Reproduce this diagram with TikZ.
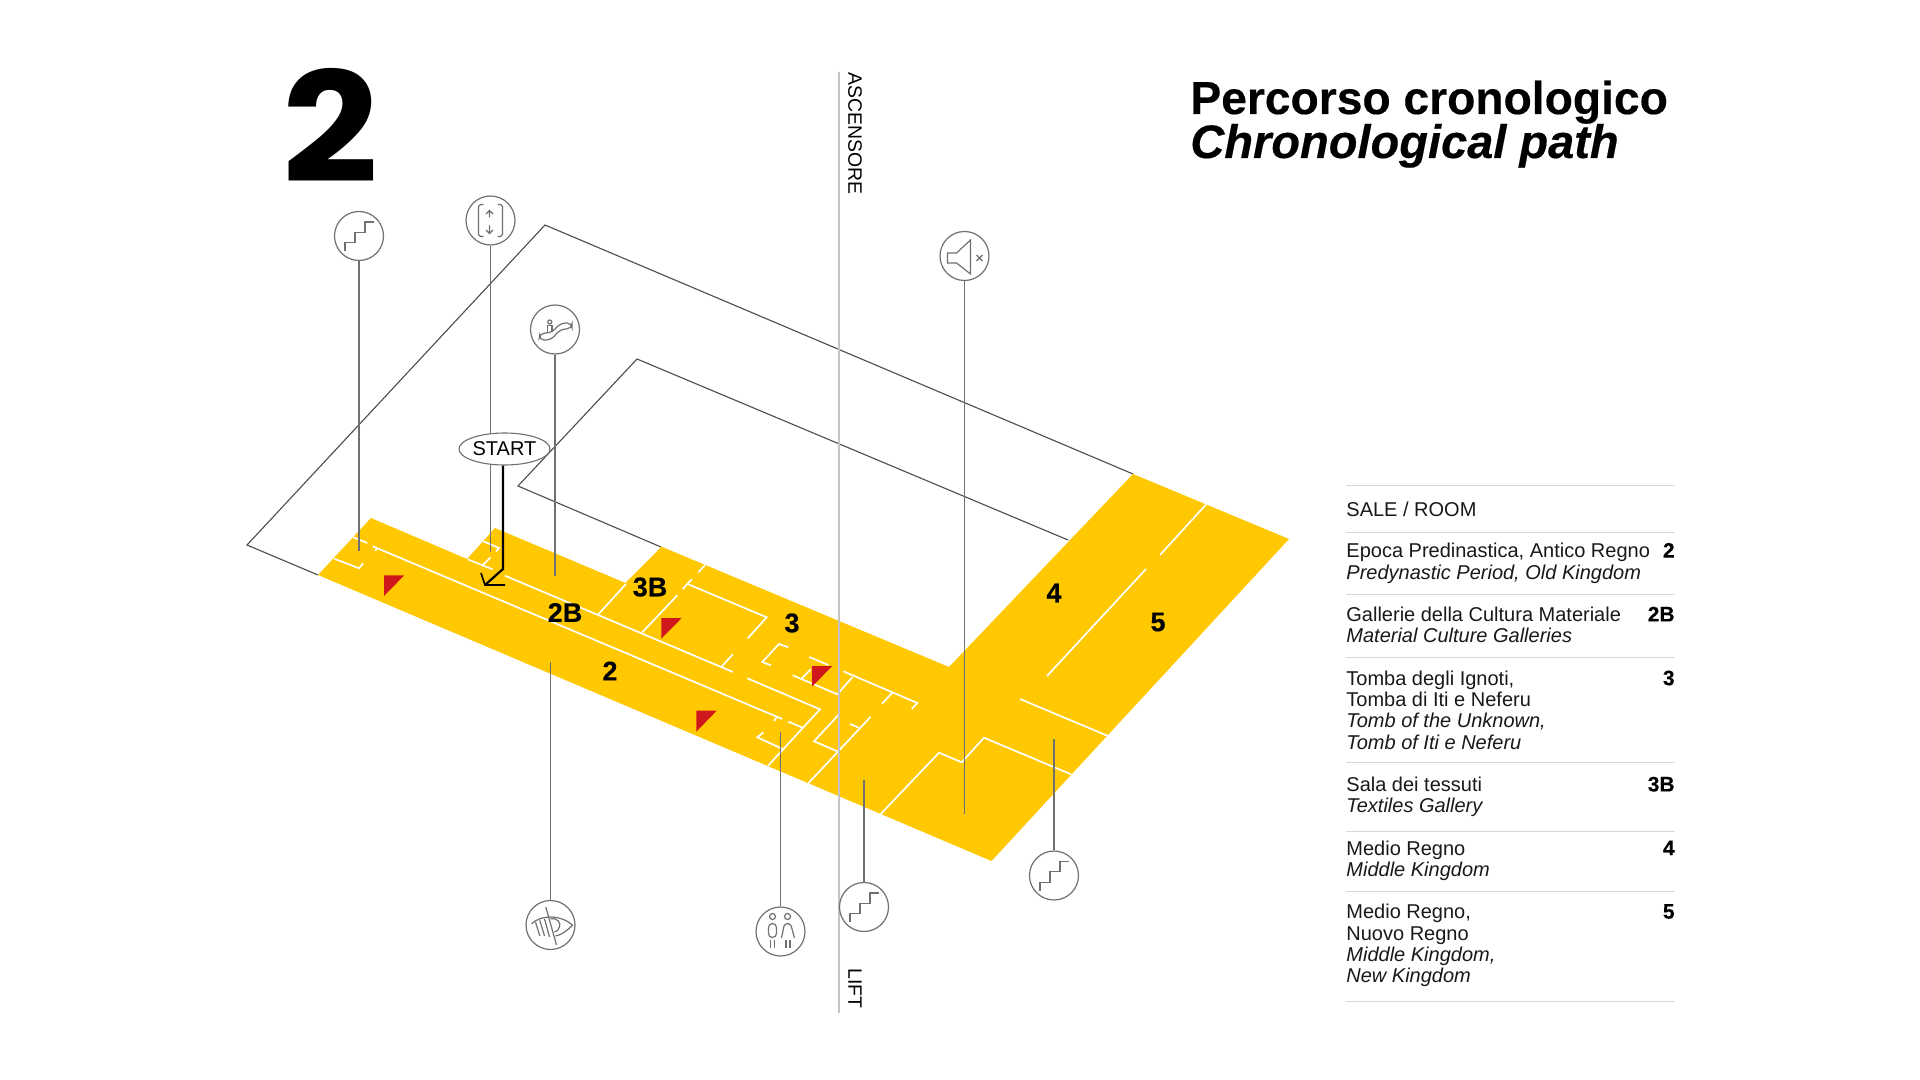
\documentclass[tikz,border=0pt]{standalone}
\usepackage{fontspec}
\usetikzlibrary{shapes.geometric}
\setmainfont{Liberation Sans}
\newfontfamily\bigfont[FakeStretch=1.1]{Poppins}
\newfontfamily\heavy[FakeBold=0.35]{Liberation Sans}
\definecolor{ochre}{HTML}{FFC800}
\definecolor{redm}{HTML}{D0181C}
\definecolor{leader}{HTML}{707070}
\definecolor{rulec}{HTML}{D8D8D8}
\tikzset{
  wall/.style={draw=white,line width=0.85pt,line cap=butt,line join=miter},
  outl/.style={draw=black!70,line width=0.55pt,line join=miter},
  lead/.style={draw=leader,line width=0.7pt},
  iconc/.style={circle,draw=leader,fill=white,line width=0.6pt,minimum size=24.5pt,inner sep=0pt},
  gly/.style={draw=leader,line width=0.6pt,line cap=butt},
  redt/.style={fill=redm,draw=none},
  room/.style={font=\heavy\bfseries\fontsize{13.5}{13.5}\selectfont,text=black,inner sep=0pt},
  tb/.style={anchor=base west,inner sep=0pt,font=\fontsize{10}{10}\selectfont,text=black!90},
  ti/.style={anchor=base west,inner sep=0pt,font=\itshape\fontsize{10}{10}\selectfont,text=black!90},
  tn/.style={anchor=base east,inner sep=0pt,font=\heavy\bfseries\fontsize{10.5}{10.5}\selectfont,text=black},
  trule/.style={draw=rulec,line width=0.6pt},
  headt/.style={anchor=base west,inner sep=0pt,text=black,font=\heavy\bfseries\fontsize{23.1}{23.1}\selectfont},
}
\newcommand{\stairglyph}{\draw[gly] (-14,15)--(-14,6.7)--(-4,6.7)--(-4,-3.7)--(6,-3.7)--(6,-14)--(15,-14);}
\begin{document}
\begin{tikzpicture}[x=0.5pt,y=-0.5pt]
\useasboundingbox (0,0) rectangle (1920,1080);
\fill[white] (0,0) rectangle (1920,1080);
% outline of floor
\draw[outl] (318,575)--(247,545)--(545,225)--(1133,474);
\draw[outl] (661,547)--(518,486)--(637,359)--(1068,540);
% yellow
\fill[ochre] (318,575)--(371,518)--(467,559)--(495,528)--(625.5,583)--(661.5,546.7)--(949,667)--(1133,474)--(1289,539)--(991.5,861)--cycle;
% walls
\draw[wall] (353.3,537.3)--(367.3,543);
\draw[wall] (334.3,558.7)--(359,568.3)--(363.3,563.3);
\draw[wall] (372.7,546.3)--(782.3,719);
\draw[wall] (377.3,548)--(375.3,550.7);
\draw[wall] (505,575.7)--(733,672);
\draw[wall] (467.7,559.3)--(492.7,569.3);
\draw[wall] (483.3,541.3)--(499,548)--(496,551.5);
\draw[wall] (490.7,557.3)--(481.7,566);
\draw[wall] (598.3,614.3)--(626,584);
\draw[wall] (698.3,572.3)--(705,565.3);
\draw[wall] (682.7,589)--(691.7,579.3);
\draw[wall] (688.3,584.3)--(766.7,617.3)--(747.7,638.3);
\draw[wall] (642.3,632.3)--(677.3,595.3);
\draw[wall] (721.7,666.7)--(732.7,654.3);
\draw[wall] (788.3,647.3)--(779,644)--(762.3,662)--(771,665.3);
\draw[wall] (809.3,657)--(828.3,665);
\draw[wall] (801.7,678.7)--(810.7,669.3);
\draw[wall] (792.7,675.3)--(837.3,694.3)--(852.3,677.3);
\draw[wall] (843.3,671.3)--(917.3,703)--(911.7,709);
\draw[wall] (892.7,692.3)--(882,703.7);
\draw[wall] (747.3,678.3)--(820,709.3)--(768,765.7);
\draw[wall] (788.3,721.7)--(802.7,727.7);
\draw[wall] (774,721)--(776.7,717.3);
\draw[wall] (763.3,732.3)--(757.3,737.3)--(783.3,749.3);
\draw[wall] (840,713.3)--(814,741.3)--(838.3,751.7);
\draw[wall] (870.7,716.7)--(808.3,783.3);
\draw[wall] (850,724)--(858.7,727.7);
\draw[wall] (880.7,814)--(939,752.7)--(961.7,762.3)--(984,737.7)--(1071,774.3);
\draw[wall] (1020,699)--(1108,736);
\draw[wall] (1047,676)--(1146,569);
\draw[wall] (1160,555)--(1206,504.5);
% red markers
\fill[redt] (384,575.3)--(404.3,575.3)--(384,596)--cycle;
\fill[redt] (661.3,618)--(681.7,618)--(661.3,638.7)--cycle;
\fill[redt] (696.3,710.7)--(716.7,710.7)--(696.3,731.7)--cycle;
\fill[redt] (812,666)--(832.3,666)--(812,686.7)--cycle;
% room labels
\node[room] (r2b) at (565,612.5) {2B};
\node[room] (r2) at (610,671) {2};
\node[room] (r3b) at (650,587) {3B};
\node[room] (r3) at (792,623) {3};
\node[room] (r4) at (1054,593) {4};
\node[room] (r5) at (1158,622) {5};
% lift line
\coordinate (lt) at (839,72);
\coordinate (lb) at (839,1012.5);
\draw[draw=black!23,line width=1.2pt] (lt)--(lb);
\node[rotate=-90,anchor=west,inner sep=0pt,font=\fontsize{9.7}{10}\selectfont] (asc) at (855,72) {ASCENSORE};
\node[rotate=-90,anchor=east,inner sep=0pt,font=\fontsize{9.7}{10}\selectfont] (lft) at (855,1009) {LIFT};
% icons
\node[iconc] (c1) at (359,236) {};
\node[iconc] (c2) at (490.5,220.5) {};
\node[iconc] (c3) at (555,329.5) {};
\node[iconc] (c4) at (964.5,256) {};
\node[iconc] (c5) at (550.5,925) {};
\node[iconc] (c6) at (780.5,931.5) {};
\node[iconc] (c7) at (864,907) {};
\node[iconc] (c8) at (1054,875.5) {};
\coordinate (e1) at (359,551);
\coordinate (e2) at (490.5,552);
\coordinate (e3) at (555,576);
\coordinate (e4) at (964.5,814);
\coordinate (e5) at (550.5,662);
\coordinate (e6) at (780.5,732);
\coordinate (e7) at (864,780);
\coordinate (e8) at (1054,739);
\foreach \n in {1,...,8}{\draw[lead] (c\n)--(e\n);}
% glyphs
\begin{scope}[shift={(359,236)}]\stairglyph\end{scope}
\begin{scope}[shift={(864,907)}]\stairglyph\end{scope}
\begin{scope}[shift={(1054,875.5)}]\stairglyph\end{scope}
\begin{scope}[shift={(490.5,220.5)}]
 \draw[gly] (-7,-16)--(-10,-16)--(-12,-14)--(-12,14)--(-10,16)--(-7,16);
 \draw[gly] (7,-16)--(10,-16)--(12,-14)--(12,14)--(10,16)--(7,16);
 \draw[gly] (-1,-3)--(-1,-10) (-4.5,-6.5)--(-1,-10)--(2.5,-6.5);
 \draw[gly] (-1,5)--(-1,13) (-4.5,9.5)--(-1,13)--(2.5,9.5);
\end{scope}
\begin{scope}[shift={(555,329.5)}]
 \draw[gly] (-5.3,-7.5) circle [radius=2];
 \draw[gly] (-7.7,2.5)--(-7.7,-4)--(-3,-4)--(-3,2.5);
 \draw[gly,rounded corners=2.5pt] (-15,3.5)--(-4,3.5)--(6,-6.5)--(17,-6.5)--(17,-1)--(5,0)--(-4,10.5)--(-16,10.5)--cycle;
\end{scope}
\begin{scope}[shift={(964.5,256)}]
 \draw[gly] (-17,-3)--(-17,7)--(-8,7)--(6,18)--(6,-16)--(-8,-3)--cycle;
 \draw[gly] (12,-1)--(18,5) (18,-1)--(12,5);
\end{scope}
\begin{scope}[shift={(550.5,925)}]
 \draw[gly] (-19,-1.3) .. controls (-10,-10) and (10,-11) .. (22,0.3) .. controls (16,6) and (11,10) .. (5,11);
 \draw[gly] (0,-6.3) .. controls (6,-8) and (11,-2) .. (9,2) .. controls (8,5) and (6,7) .. (4,7);
 \draw[gly] (-4.7,-18)--(6,20);
 \draw[gly] (-15,-3)--(-10.7,11) (-10.7,-4.7)--(-6,11) (-6,-6.3)--(-1,12);
\end{scope}
\begin{scope}[shift={(780.5,931.5)}]
 \draw[gly] (-8,-15) circle [radius=3];
 \draw[gly] (7,-15) circle [radius=3];
 \draw[gly,rounded corners=2pt] (-12,-8) rectangle (-4,6);
 \draw[gly] (-10,8)--(-10,16) (-6,8)--(-6,16);
 \draw[gly,rounded corners=1.5pt] (1,6.5)--(4,-8)--(10,-8)--(14,6.5);
 \draw[gly] (5.5,8)--(5.5,16) (9.5,8)--(9.5,16);
\end{scope}
% start
\node[ellipse,draw=leader,fill=white,line width=0.55pt,minimum width=45.5pt,minimum height=16pt,inner sep=0pt,font=\fontsize{10}{10}\selectfont] (st) at (504.5,449) {START};
\coordinate (ta) at (503,569);
\coordinate (tb) at (485,585);
\coordinate (tc) at (481,573);
\coordinate (td) at (505,585);
\draw[black,line width=1.1pt,line join=miter] (st.south -| ta)--(ta)--(tb);
\draw[black,line width=0.8pt] (tc)--(tb)--(td);
% titles
\node[inner sep=0pt,anchor=base west,font=\bigfont\bfseries\fontsize{76.5}{76.5}\selectfont] (big) at (282.5,182.5) {2};
\node[headt] (h1) at (1190,114) {Percorso cronologico};
\node[headt,font=\heavy\bfseries\itshape\fontsize{23.5}{23.5}\selectfont] (h2) at (1190,158) {Chronological path};
% table
\foreach \y in {485.2,532.4,594.5,657.6,762.8,831.7,891.4,1001.7}{\draw[trule] (1346,\y)--(1675,\y);}
\node[tb] (t0) at (1346,516.2) {SALE / ROOM};
\node[tb] (t1) at (1346,557.6) {Epoca Predinastica, Antico Regno};
\node[ti] (t2) at (1346,579.3) {Predynastic Period, Old Kingdom};
\node[tb] (t3) at (1346,621.4) {Gallerie della Cultura Materiale};
\node[ti] (t4) at (1346,642.8) {Material Culture Galleries};
\node[tb] (t5) at (1346,685.2) {Tomba degli Ignoti,};
\node[tb] (t6) at (1346,706.6) {Tomba di Iti e Neferu};
\node[ti] (t7) at (1346,727.6) {Tomb of the Unknown,};
\node[ti] (t8) at (1346,749) {Tomb of Iti e Neferu};
\node[tb] (t9) at (1346,791.4) {Sala dei tessuti};
\node[ti] (t10) at (1346,812.8) {Textiles Gallery};
\node[tb] (t11) at (1346,855.2) {Medio Regno};
\node[ti] (t12) at (1346,876.6) {Middle Kingdom};
\node[tb] (t13) at (1346,918.6) {Medio Regno,};
\node[tb] (t14) at (1346,940.3) {Nuovo Regno};
\node[ti] (t15) at (1346,961.7) {Middle Kingdom,};
\node[ti] (t16) at (1346,982.8) {New Kingdom};
\node[tn] (n1) at (1675,557.6) {2};
\node[tn] (n2) at (1675,621.4) {2B};
\node[tn] (n3) at (1675,685.2) {3};
\node[tn] (n4) at (1675,791.4) {3B};
\node[tn] (n5) at (1675,855.2) {4};
\node[tn] (n6) at (1675,918.6) {5};
\end{tikzpicture}
\end{document}
